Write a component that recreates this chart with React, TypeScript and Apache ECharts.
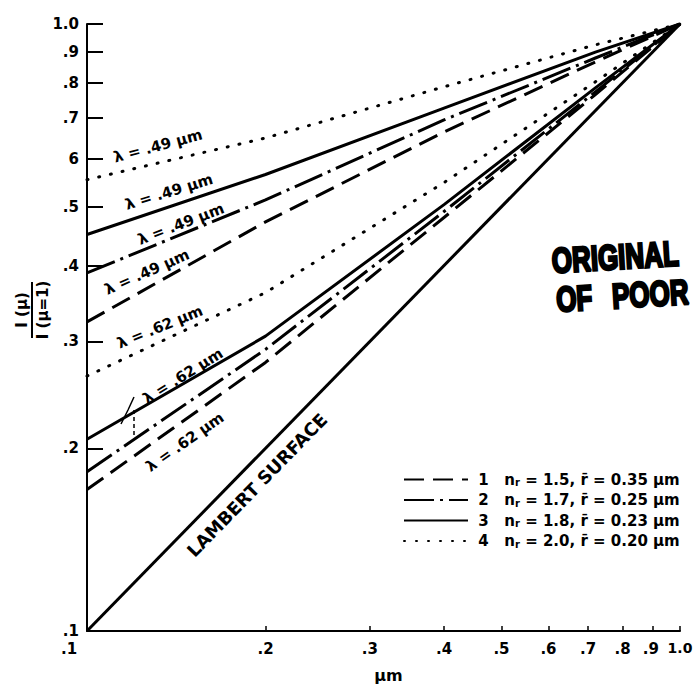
import React, { useEffect, useRef } from "react";
import * as echarts from "echarts";

// ---- tick values / labels ----
const xTickValues = [0.1, 0.2, 0.3, 0.4, 0.5, 0.6, 0.7, 0.8, 0.9, 1.0];
const xTickLabels = [".1", ".2", ".3", ".4", ".5", ".6", ".7", ".8", ".9", "1.0"];
const yTickValues = [0.1, 0.2, 0.3, 0.4, 0.5, 0.6, 0.7, 0.8, 0.9, 1.0];
const yTickLabels = [".1", ".2", ".3", ".4", ".5", "6", ".7", ".8", ".9", "1.0"];

// ---- data (mu, I(mu)/I(mu=1)) ----
const muValues = [0.1, 0.2, 0.4, 0.72, 1.0];
// lambda = .49 um
const dotted49 = [0.554, 0.649, 0.788, 0.924, 1.0];
const solid49 = [0.45, 0.565, 0.727, 0.899, 1.0];
const dashdot49 = [0.389, 0.513, 0.695, 0.879, 1.0];
const dashed49 = [0.323, 0.472, 0.664, 0.866, 1.0];
// lambda = .62 um
const dotted62 = [0.263, 0.361, 0.548, 0.803, 1.0];
const solid62 = [0.207, 0.306, 0.504, 0.785, 1.0];
const dashdot62 = [0.183, 0.291, 0.491, 0.773, 1.0];
const dashed62 = [0.171, 0.277, 0.48, 0.765, 1.0];
// Lambert surface
const lambertMu = [0.1, 1.0];
const lambertVal = [0.1, 1.0];

// legend content
const legendIds = ["1", "2", "3", "4"];
const legendNr = ["1.5", "1.7", "1.8", "2.0"];
const legendR = ["0.35", "0.25", "0.23", "0.20"];

const FONT = '"DejaVu Sans", Verdana, sans-serif';
const FONT2 = '"Liberation Sans", Arial, Helvetica, sans-serif';
const BLACK = "#000";

const lg = Math.log10;
const toPts = (xs: number[], ys: number[]) => xs.map((x, i) => [lg(x), lg(ys[i])]);
const findLabel = (vals: number[], labels: string[], v: number) => {
  for (let i = 0; i < vals.length; i++) if (Math.abs(lg(vals[i]) - v) < 1e-6) return labels[i];
  return "";
};

const styles: Record<string, any> = {
  "1": { type: [20, 9], width: 3 },
  "2": { type: [30, 6, 3, 6], width: 3 },
  "3": { type: "solid", width: 3 },
  "4": { type: [1, 11], width: 3, cap: "round" },
};

function mkSeries(name: string, ys: number[]) {
  const st = styles[name];
  return {
    type: "line",
    name,
    data: toPts(muValues, ys),
    symbol: "none",
    silent: true,
    lineStyle: { color: BLACK, width: st.width, type: st.type, cap: st.cap || "butt", join: "round" },
    itemStyle: { color: BLACK },
  };
}

function lineLabel(text: string, x: number, y: number, deg: number, size = 15) {
  return {
    type: "text",
    x,
    y,
    rotation: (deg * Math.PI) / 180,
    style: {
      text,
      fill: BLACK,
      font: `bold ${size}px ${FONT}`,
      align: "center",
      verticalAlign: "middle",
    },
  };
}

export default function App() {
  const ref = useRef<HTMLDivElement>(null);
  useEffect(() => {
    if (!ref.current) return;
    const chart = echarts.init(ref.current, undefined, { renderer: "svg" });
    const lbl = { fontFamily: FONT, fontWeight: "bold", fontSize: 15, color: BLACK };
    const option: any = {
      animation: false,
      backgroundColor: "#fff",
      grid: { left: 87, right: 16, top: 24, bottom: 56, containLabel: false },
      xAxis: {
        type: "value",
        min: -1,
        max: 0,
        name: "μm",
        nameLocation: "middle",
        nameGap: 36,
        nameTextStyle: { fontFamily: FONT, fontWeight: "bold", fontSize: 16, color: BLACK, padding: [0, 0, 0, 10] },
        axisLine: { show: true, onZero: false, lineStyle: { color: BLACK, width: 2 } },
        axisTick: { show: true, inside: true, length: 5, lineStyle: { color: BLACK, width: 1.5 }, customValues: xTickValues.map(lg) },
        axisLabel: {
          customValues: xTickValues.map(lg),
          margin: 10,
          showMinLabel: true,
          showMaxLabel: true,
          hideOverlap: false,
          formatter: (v: number) => {
            const t = findLabel(xTickValues, xTickLabels, v);
            if (t === ".1") return `{f|${t}}`;
            if (t === ".9") return `{p|${t}}`;
            if (t === "1.0") return `{l|${t}}`;
            return `{n|${t}}`;
          },
          rich: {
            n: { ...lbl },
            f: { ...lbl, padding: [0, 36, 0, 0] },
            p: { ...lbl, padding: [0, 4, 0, 0] },
            l: { ...lbl, fontSize: 14 },
          },
        },
        splitLine: { show: false },
      },
      yAxis: {
        type: "value",
        min: -1,
        max: 0,
        axisLine: { show: true, onZero: false, lineStyle: { color: BLACK, width: 2 } },
        axisTick: { show: true, inside: true, length: 16, lineStyle: { color: BLACK, width: 2 }, customValues: yTickValues.map(lg) },
        axisLabel: {
          customValues: yTickValues.map(lg),
          margin: 8,
          showMinLabel: true,
          showMaxLabel: true,
          ...lbl,
          formatter: (v: number) => findLabel(yTickValues, yTickLabels, v),
        },
        splitLine: { show: false },
      },
      legend: {
        left: 403,
        top: 472,
        padding: 0,
        orient: "vertical",
        itemWidth: 64,
        itemHeight: 14,
        itemGap: 5,
        selectedMode: false,
        itemStyle: { opacity: 0, borderWidth: 0 },
        data: legendIds,
        formatter: (name: string) => {
          const i = legendIds.indexOf(name);
          return `{t| ${name}   n}{s|r}{t| = ${legendNr[i]}, r\u0304 = ${legendR[i]} μm}`;
        },
        textStyle: {
          rich: {
            t: { fontFamily: FONT, fontWeight: "bold", fontSize: 15, color: BLACK, lineHeight: 16 },
            s: { fontFamily: FONT, fontWeight: "bold", fontSize: 10, color: BLACK, verticalAlign: "bottom", lineHeight: 16 },
          },
        },
      },
      series: [
        mkSeries("4", dotted49),
        mkSeries("3", solid49),
        mkSeries("2", dashdot49),
        mkSeries("1", dashed49),
        mkSeries("4", dotted62),
        mkSeries("3", solid62),
        mkSeries("2", dashdot62),
        mkSeries("1", dashed62),
        {
          type: "line",
          name: "Lambert",
          data: toPts(lambertMu, lambertVal),
          symbol: "none",
          silent: true,
          lineStyle: { color: BLACK, width: 3 },
        },
      ],
      graphic: [
        lineLabel("λ = .49 μm", 158, 146, 15),
        lineLabel("λ = .49 μm", 169, 192, 17),
        lineLabel("λ = .49 μm", 181, 224, 21),
        lineLabel("λ = .49 μm", 147, 272, 24),
        lineLabel("λ = .62 μm", 160, 327, 22),
        lineLabel("λ = .62 μm", 183, 376, 32),
        lineLabel("λ = .62 μm", 185, 442, 35),
        lineLabel("LAMBERT SURFACE", 257, 485, 45.7, 18),
        // y axis title (fraction)
        {
          type: "group",
          x: 32,
          y: 310,
          rotation: Math.PI / 2,
          children: [
            {
              type: "text",
              x: 0,
              y: -3,
              style: { text: "I (μ)", fill: BLACK, font: `bold 15px ${FONT}`, align: "center", verticalAlign: "bottom" },
            },
            {
              type: "line",
              shape: { x1: -28, y1: 0, x2: 28, y2: 0 },
              style: { stroke: BLACK, lineWidth: 2 },
            },
            {
              type: "text",
              x: 0,
              y: 3,
              style: { text: "I (μ=1)", fill: BLACK, font: `bold 15px ${FONT}`, align: "center", verticalAlign: "top" },
            },
          ],
        },
        // stamp
        {
          type: "group",
          x: 553,
          y: 280,
          rotation: 0.06,
          children: [
            {
              type: "text",
              x: 0,
              y: -19,
              scaleY: 1.35,
              style: { text: "ORIGINAL", fill: BLACK, stroke: BLACK, lineWidth: 2, font: `900 26px ${FONT2}`, align: "left", verticalAlign: "middle" },
            },
            {
              type: "text",
              x: 2,
              y: 20,
              scaleY: 1.35,
              style: { text: "OF", fill: BLACK, stroke: BLACK, lineWidth: 2, font: `900 26px ${FONT2}`, align: "left", verticalAlign: "middle" },
            },
            {
              type: "text",
              x: 58,
              y: 20,
              scaleY: 1.35,
              style: { text: "POOR", fill: BLACK, stroke: BLACK, lineWidth: 2, font: `900 26px ${FONT2}`, align: "left", verticalAlign: "middle" },
            },
          ],
        },
        // small stray pointer mark
        {
          type: "polyline",
          shape: { points: [[134, 397], [128, 410], [121, 424]] },
          style: { stroke: BLACK, lineWidth: 1.5, fill: null },
        },
        {
          type: "line",
          shape: { x1: 134, y1: 410, x2: 134, y2: 437 },
          style: { stroke: BLACK, lineWidth: 1.5, lineDash: [4, 3] },
        },
      ],
    };
    chart.setOption(option);
    return () => chart.dispose();
  }, []);
  return (
    <div
      ref={ref}
      style={{ position: "fixed", left: 0, top: 0, width: 696, height: 688, background: "#fff" }}
    />
  );
}
